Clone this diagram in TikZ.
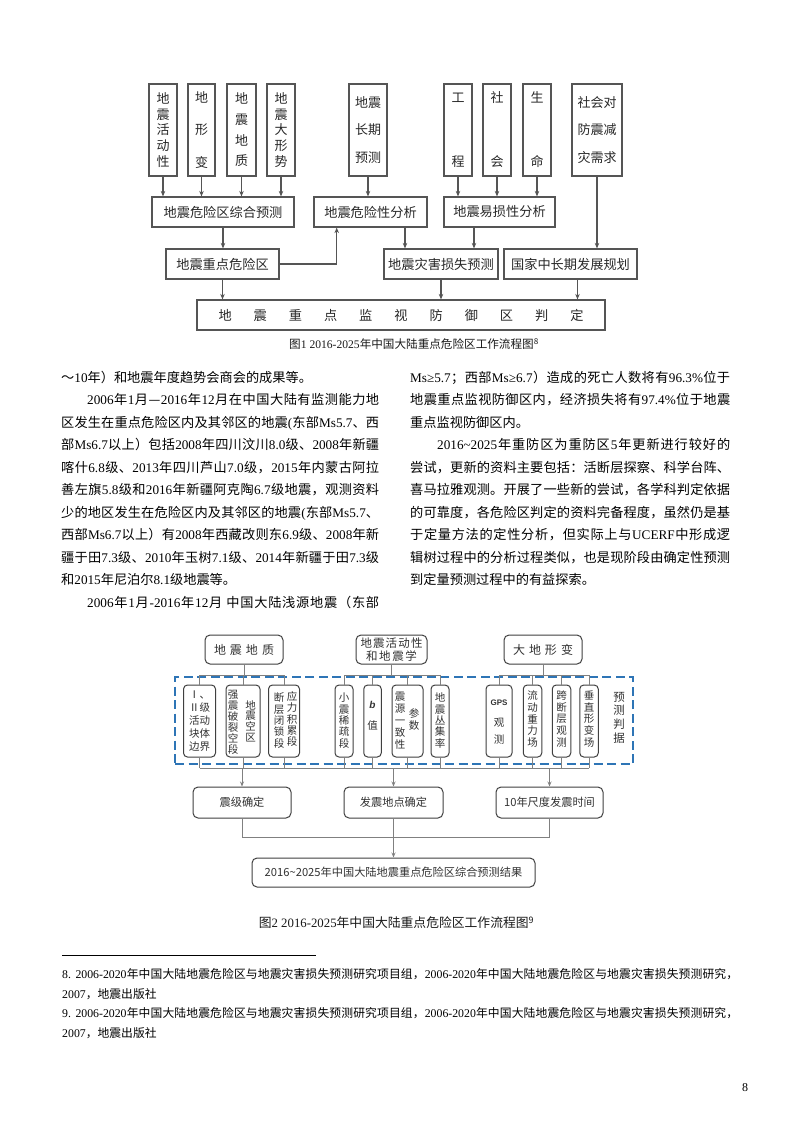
\documentclass[tikz,border=0pt]{standalone}
\usepackage{fontspec}
\setmainfont{Liberation Serif}
\newfontfamily\cjkfont{Noto Sans CJK SC}
\newfontfamily\lsans{Liberation Sans}
\usetikzlibrary{arrows.meta,calc}
% --- automatic CJK / Latin font switching ---
\newXeTeXintercharclass\cjkclass
\newcount\cjkcnt
\newcommand\setcjkrange[2]{\cjkcnt=#1\relax\loop\XeTeXcharclass\cjkcnt=\cjkclass\relax\advance\cjkcnt by 1\relax\ifnum\cjkcnt<#2\relax\repeat}
\setcjkrange{"4E00}{"A000}
\setcjkrange{"3000}{"3040}
\setcjkrange{"FF00}{"FFF0}
\setcjkrange{"2160}{"2170}
\XeTeXcharclass"2014=\cjkclass
\newcommand\curlat{\rmfamily}
\newcommand\cjkglue{\hskip0pt plus 1pt minus 0.4pt\relax}
\XeTeXinterchartoks 0 \cjkclass = {\cjkglue\cjkfont}
\XeTeXinterchartoks 4095 \cjkclass = {\cjkfont}
\XeTeXinterchartoks \cjkclass 0 = {\cjkglue\curlat}
\XeTeXinterchartoks \cjkclass \cjkclass = {\cjkglue}
\XeTeXinterchartokenstate=1
% --- fonts ---
\newcommand\fone[2]{\cjkfont\fontsize{#1}{#2}\selectfont}
\newcommand\ftwo[2]{\cjkfont\fontsize{#1}{#2}\selectfont\let\curlat\relax}
\newcommand\fbody{\rmfamily\fontsize{13.2}{15}\selectfont}
\definecolor{cA}{RGB}{85,85,85}
\definecolor{tA}{RGB}{40,40,40}
\definecolor{cB}{RGB}{64,64,64}
\definecolor{cL}{RGB}{128,128,128}
\definecolor{tB}{RGB}{50,50,50}
\definecolor{dblue}{RGB}{46,117,182}
\tikzset{
  boxA/.style={draw=cA, line width=1.2pt, inner sep=0pt, text=tA, align=center, font={\fone{13.2}{15.8}}},
  arrA/.style={draw=cA, line width=1.1pt, -{Stealth[length=5.5pt,width=4.5pt]}},
  boxB/.style={draw=cB, line width=1pt, rounded corners=5pt, inner sep=0pt, text=tB, align=center, font={\ftwo{11.2}{13}}},
  inB/.style={draw=cB, line width=1pt, rounded corners=4pt, inner sep=0pt, minimum height=72pt},
  txtB/.style={inner sep=0pt, text=tB, align=center},
  lnB/.style={draw=cL, line width=0.9pt},
  arrB/.style={lnB, -{Stealth[length=5pt,width=4pt]}},
  bodyL/.style={anchor=base west, inner sep=0pt, font=\fbody, text=black},
  capt/.style={inner sep=0pt, text=black!90},
  dashbox/.style={draw=dblue, line width=2.2pt, dash pattern=on 9pt off 4.5pt, inner sep=0pt},
}
\begin{document}
\begin{tikzpicture}[x=1pt,y=-1pt]
\useasboundingbox (0,0) rectangle (793,1122);
\fill[white] (0,0) rectangle (793,1122);

% ================= Figure 1 =================
\node[boxA, minimum width=28pt, minimum height=92pt, font={\fone{13}{15.8}}] (A) at (163,130) {地\\震\\活\\动\\性};
\node[boxA, minimum width=27pt, minimum height=92pt, font={\fone{13}{32.5}}] (B) at (201.5,130) {地\\形\\变};
\node[boxA, minimum width=29pt, minimum height=92pt, font={\fone{13}{20.7}}] (C) at (241.5,130) {地\\震\\地\\质};
\node[boxA, minimum width=28pt, minimum height=92pt, font={\fone{13}{15.8}}] (D) at (281,130) {地\\震\\大\\形\\势};
\node[boxA, minimum width=38pt, minimum height=92pt, font={\fone{13}{27.5}}] (E) at (368,130) {地震\\长期\\预测};
\node[boxA, minimum width=28pt, minimum height=92pt, font={\fone{13}{64}}] (F) at (458,130) {工\\程};
\node[boxA, minimum width=28pt, minimum height=92pt, font={\fone{13}{64}}] (G) at (497,130) {社\\会};
\node[boxA, minimum width=28pt, minimum height=92pt, font={\fone{13}{64}}] (H) at (537,130) {生\\命};
\node[boxA, minimum width=50pt, minimum height=92pt, font={\fone{13}{27.5}}] (I) at (597,130) {社会对\\防震减\\灾需求};

\node[boxA, minimum width=142pt, minimum height=30pt] (P1) at (223,212) {地震危险区综合预测};
\node[boxA, minimum width=113pt, minimum height=30pt] (P2) at (370.5,212) {地震危险性分析};
\node[boxA, minimum width=111pt, minimum height=30pt] (P3) at (499.5,212) {地震易损性分析};

\node[boxA, minimum width=113pt, minimum height=30pt] (Q1) at (222.5,264) {地震重点危险区};
\node[boxA, minimum width=114pt, minimum height=30pt] (Q2) at (441,264) {地震灾害损失预测};
\node[boxA, minimum width=133pt, minimum height=30pt] (Q3) at (570.5,264) {国家中长期发展规划};

\node[boxA, minimum width=408pt, minimum height=30pt] (R) at (401,315) {\makebox[365pt][s]{地震重点监视防御区判定}};

\foreach \n in {A,B,C,D} \draw[arrA] (\n.south) -- (\n.south |- P1.north);
\draw[arrA] (E.south) -- (E.south |- P2.north);
\foreach \n in {F,G,H} \draw[arrA] (\n.south) -- (\n.south |- P3.north);
\draw[arrA] (P1.south) -- (P1.south |- Q1.north);
\draw[arrA] (Q1.east) -| ([xshift=-33.8pt]P2.south);
\draw[arrA] ([xshift=34.5pt]P2.south) -- ([xshift=34.5pt]P2.south |- Q2.north);
\draw[arrA] ([xshift=-25.5pt]P3.south) -- ([xshift=-25.5pt]P3.south |- Q2.north);
\draw[arrA] (I.south) -- (I.south |- Q3.north);
\draw[arrA] (Q1.south) -- (Q1.south |- R.north);
\draw[arrA] (Q2.south) -- (Q2.south |- R.north);
\draw[arrA] ([xshift=7pt]Q3.south) -- ([xshift=7pt]Q3.south |- R.north);

\node[capt, font={\rmfamily\fontsize{11.6}{13}\selectfont}] (cap1) at (414,344) {图1 2016-2025年中国大陆重点危险区工作流程图\textsuperscript{8}};

% ================= Body text =================
% left column
\node[bodyL] (L0) at (61,382) {～10年）和地震年度趋势会商会的成果等。};
\node[bodyL] (L1) at (87,404.5) {\makebox[292pt][s]{2006年1月—2016年12月在中国大陆有监测能力地}};
\node[bodyL] (L2) at (61,427) {\makebox[318pt][s]{区发生在重点危险区内及其邻区的地震(东部Ms5.7、西}};
\node[bodyL] (L3) at (61,449.5) {\makebox[318pt][s]{部Ms6.7以上）包括2008年四川汶川8.0级、2008年新疆}};
\node[bodyL] (L4) at (61,472) {\makebox[318pt][s]{喀什6.8级、2013年四川芦山7.0级，2015年内蒙古阿拉}};
\node[bodyL] (L5) at (61,494.5) {\makebox[318pt][s]{善左旗5.8级和2016年新疆阿克陶6.7级地震，观测资料}};
\node[bodyL] (L6) at (61,517) {\makebox[318pt][s]{少的地区发生在危险区内及其邻区的地震(东部Ms5.7、}};
\node[bodyL] (L7) at (61,539.5) {\makebox[318pt][s]{西部Ms6.7以上）有2008年西藏改则东6.9级、2008年新}};
\node[bodyL] (L8) at (61,562) {\makebox[318pt][s]{疆于田7.3级、2010年玉树7.1级、2014年新疆于田7.3级}};
\node[bodyL] (L9) at (61,584.5) {和2015年尼泊尔8.1级地震等。};
\node[bodyL] (L10) at (87,607) {\makebox[292pt][s]{2006年1月-2016年12月 中国大陆浅源地震（东部}};
% right column
\node[bodyL] (R0) at (410,382) {\makebox[320pt][s]{Ms≥5.7；西部Ms≥6.7）造成的死亡人数将有96.3\%位于}};
\node[bodyL] (R1) at (410,404.5) {\makebox[320pt][s]{地震重点监视防御区内，经济损失将有97.4\%位于地震}};
\node[bodyL] (R2) at (410,427) {重点监视防御区内。};
\node[bodyL] (R3) at (437,449.5) {\makebox[293pt][s]{2016\textasciitilde 2025年重防区为重防区5年更新进行较好的}};
\node[bodyL] (R4) at (410,472) {\makebox[320pt][s]{尝试，更新的资料主要包括：活断层探察、科学台阵、}};
\node[bodyL] (R5) at (410,494.5) {\makebox[320pt][s]{喜马拉雅观测。开展了一些新的尝试，各学科判定依据}};
\node[bodyL] (R6) at (410,517) {\makebox[320pt][s]{的可靠度，各危险区判定的资料完备程度，虽然仍是基}};
\node[bodyL] (R7) at (410,539.5) {\makebox[320pt][s]{于定量方法的定性分析，但实际上与UCERF中形成逻}};
\node[bodyL] (R8) at (410,562) {\makebox[320pt][s]{辑树过程中的分析过程类似，也是现阶段由确定性预测}};
\node[bodyL] (R9) at (410,584.5) {到定量预测过程中的有益探索。};

% ================= Figure 2 =================
\node[dashbox, minimum width=458pt, minimum height=87pt] (DB) at (404,720.5) {};

\node[boxB, minimum width=78pt, minimum height=29pt, font={\ftwo{12}{14}}] (T1) at (244,649.5) {\makebox[60pt][s]{地震地质}};
\node[boxB, minimum width=71pt, minimum height=29pt, font={\ftwo{11.5}{12.4}}] (T2) at (391.5,649.5) {\makebox[62pt][s]{地震活动性}\\\makebox[51pt][s]{和地震学}};
\node[boxB, minimum width=78pt, minimum height=29pt, font={\ftwo{12}{14}}] (T3) at (543,649.5) {\makebox[60pt][s]{大地形变}};

\node[inB, minimum width=32pt] (G1) at (199.5,721) {};
\node[inB, minimum width=34pt] (G2) at (243,721) {};
\node[inB, minimum width=31pt] (G3) at (284,721) {};
\node[inB, minimum width=18pt] (S1) at (344,721) {};
\node[inB, minimum width=17.5pt] (S2) at (372.5,721) {};
\node[inB, minimum width=31pt] (S3) at (407.5,721) {};
\node[inB, minimum width=18pt] (S4) at (440,721) {};
\node[inB, minimum width=26pt] (D1) at (499,721) {};
\node[inB, minimum width=18.5pt] (D2) at (532.5,721) {};
\node[inB, minimum width=18.5pt] (D3) at (561.5,721) {};
\node[inB, minimum width=18.5pt] (D4) at (589,721) {};

\node[txtB, font={\ftwo{10.5}{12.8}}] (G1t) at (199.5,721) {Ⅰ、\\Ⅱ级\\活动\\块体\\边界};
\node[txtB, font={\ftwo{10.5}{11}}] (G2a) at (233,722.5) {强\\震\\破\\裂\\空\\段};
\node[txtB, font={\ftwo{10.5}{10.6}}] (G2b) at (250.5,721) {地\\震\\空\\区};
\node[txtB, font={\ftwo{10.5}{11.3}}] (G3a) at (279,720.5) {断\\层\\闭\\锁\\段};
\node[txtB, font={\ftwo{10.5}{11.3}}] (G3b) at (292,719) {应\\力\\积\\累\\段};
\node[txtB, font={\ftwo{10.5}{11.3}}] (S1t) at (344,720.5) {小\\震\\稀\\疏\\段};
\node[txtB, font={\lsans\bfseries\itshape\fontsize{10}{11}\selectfont}] (S2a) at (372.5,705) {b};
\node[txtB, font={\ftwo{10.5}{11.3}}] (S2b) at (372.5,725) {值};
\node[txtB, font={\ftwo{10.5}{12}}] (S3a) at (400,721) {震\\源\\一\\致\\性};
\node[txtB, font={\ftwo{10.5}{12}}] (S3b) at (414,719) {参\\数};
\node[txtB, font={\ftwo{10.5}{11.3}}] (S4t) at (440,720.5) {地\\震\\丛\\集\\率};
\node[txtB, font={\lsans\bfseries\fontsize{8}{9}\selectfont}] (D1a) at (499,703) {GPS};
\node[txtB, font={\ftwo{10.5}{17}}] (D1b) at (499,731.5) {观\\测};
\node[txtB, font={\ftwo{10.5}{11.6}}] (D2t) at (532.5,719) {流\\动\\重\\力\\场};
\node[txtB, font={\ftwo{10.5}{11.6}}] (D3t) at (561.5,719) {跨\\断\\层\\观\\测};
\node[txtB, font={\ftwo{10.5}{11.6}}] (D4t) at (589,719) {垂\\直\\形\\变\\场};
\node[txtB, font={\ftwo{11.5}{13.6}}] (PJ) at (619,717.5) {预\\测\\判\\据};

\coordinate (bar1) at (0,675);
\draw[lnB] (T1.south) -- (T1.south |- bar1);
\draw[lnB] (T2.south) -- (T2.south |- bar1);
\draw[lnB] (T3.south) -- (T3.south |- bar1);
\draw[lnB] (G1.north |- bar1) -- (G3.north |- bar1);
\draw[lnB] (S1.north |- bar1) -- (S4.north |- bar1);
\draw[lnB] (D1.north |- bar1) -- (D4.north |- bar1);
\foreach \n in {G1,G2,G3,S1,S2,S3,S4,D1,D2,D3,D4} \draw[lnB] (\n.north |- bar1) -- (\n.north);

\coordinate (bar2) at (0,768);
\foreach \n in {G1,G2,G3,S1,S2,S3,S4,D1,D2,D3,D4} \draw[lnB] (\n.south) -- (\n.south |- bar2);
\draw[lnB] (G1.south |- bar2) -- (D4.south |- bar2);

\node[boxB, minimum width=98pt, minimum height=31pt] (B1) at (242,802.5) {震级确定};
\node[boxB, minimum width=99pt, minimum height=31pt] (B2) at (393.5,802.5) {发震地点确定};
\node[boxB, minimum width=107pt, minimum height=31pt] (B3) at (549.5,802.5) {10年尺度发震时间};
\foreach \n in {B1,B2,B3} \draw[arrB] (\n.north |- bar2) -- (\n.north);

\node[boxB, minimum width=283pt, minimum height=29pt] (FR) at (393.5,872.5) {2016\textasciitilde 2025年中国大陆地震重点危险区综合预测结果};
\coordinate (bar3) at (0,837);
\draw[lnB] (B1.south) -- (B1.south |- bar3) -- (B3.south |- bar3) -- (B3.south);
\draw[arrB] (B2.south) -- (FR.north);

\node[capt, font={\rmfamily\fontsize{12.8}{14}\selectfont}] (cap2) at (396.5,922.7) {图2 2016-2025年中国大陆重点危险区工作流程图\textsuperscript{9}};

% ================= Footnotes =================
\draw[line width=0.8pt, black] (62,955) -- (316,955);
\node[anchor=west, inner sep=0pt, font={\rmfamily\fontsize{11.8}{13}\selectfont}] (fn1) at (62,974) {\makebox[676pt][s]{8. 2006-2020年中国大陆地震危险区与地震灾害损失预测研究项目组，2006-2020年中国大陆地震危险区与地震灾害损失预测研究，}};
\node[anchor=west, inner sep=0pt, font={\rmfamily\fontsize{11.8}{13}\selectfont}] (fn2) at (62,994) {2007，地震出版社};
\node[anchor=west, inner sep=0pt, font={\rmfamily\fontsize{11.8}{13}\selectfont}] (fn3) at (62,1013) {\makebox[676pt][s]{9. 2006-2020年中国大陆地震危险区与地震灾害损失预测研究项目组，2006-2020年中国大陆地震危险区与地震灾害损失预测研究，}};
\node[anchor=west, inner sep=0pt, font={\rmfamily\fontsize{11.8}{13}\selectfont}] (fn4) at (62,1033) {2007，地震出版社};
\node[inner sep=0pt, font={\rmfamily\fontsize{12}{13}\selectfont}] (pg) at (745,1088) {8};
\end{tikzpicture}
\end{document}
